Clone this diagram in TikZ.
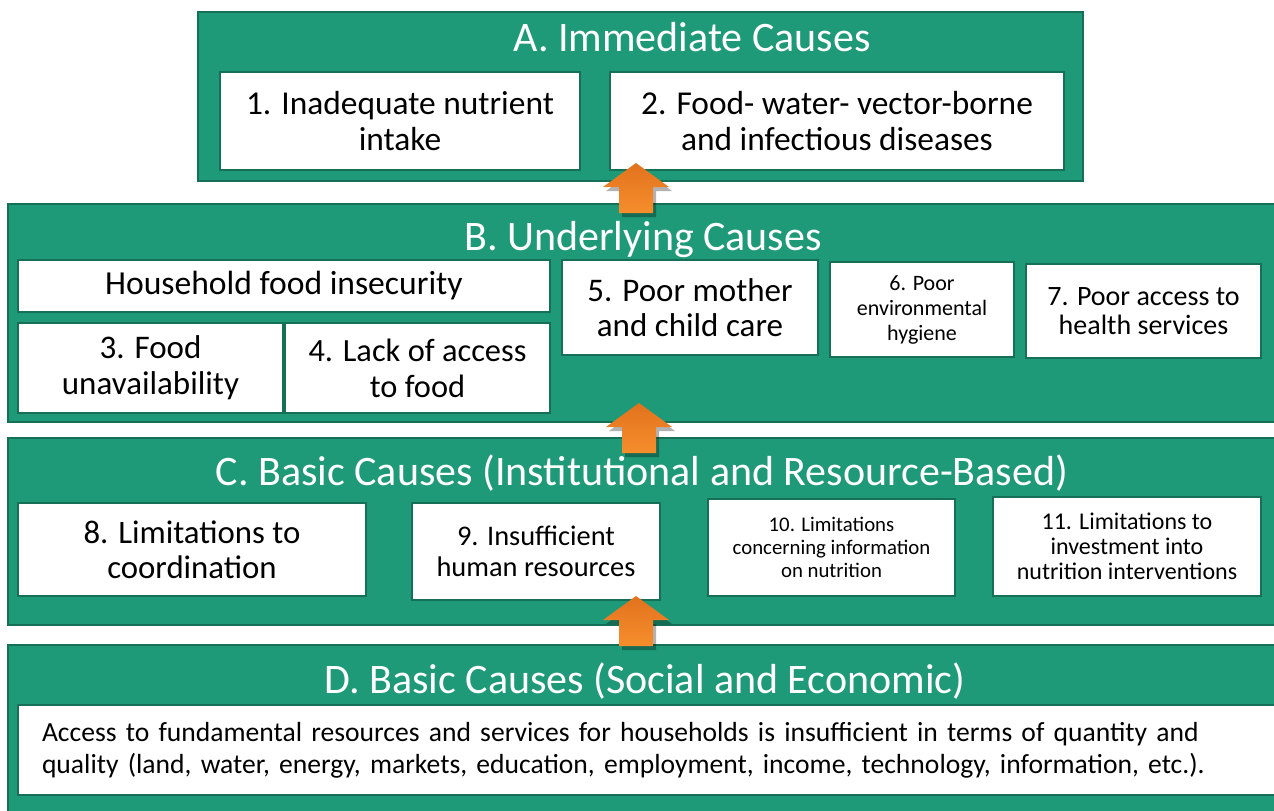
\documentclass[tikz,border=0pt]{standalone}
\usepackage{fontspec}
\setmainfont{Carlito}
\usepackage{tikz}

\definecolor{panelgreen}{RGB}{31,154,120}
\definecolor{edgegreen}{RGB}{22,112,88}
\definecolor{arrowtop}{RGB}{226,114,30}
\definecolor{arrowbot}{RGB}{246,142,44}

\tikzset{
  panel/.style={fill=panelgreen, draw=edgegreen, line width=0.6pt, inner sep=0pt},
  cause/.style={fill=white, draw=edgegreen, line width=0.6pt, align=center, inner sep=2pt},
  heading/.style={text=white, font=\fontsize{21}{24}\selectfont},
  upblock/.style={top color=arrowtop, bottom color=arrowbot, draw=none}
}

\begin{document}
\begin{tikzpicture}[x=0.5pt, y=-0.5pt]
    \useasboundingbox (0,0) rectangle (1274,810);
    % Panels
    \node[panel, minimum width=442.5pt, minimum height=84.5pt] (pA) at (640.5,96.5) {};
    \node[panel, minimum width=636pt, minimum height=109pt] (pB) at (644,313) {};
    \node[panel, minimum width=636pt, minimum height=93.5pt] (pC) at (644,531.5) {};
    \node[panel, minimum width=636pt, minimum height=87.5pt] (pD) at (644,732.5) {};
    % Headings
    \node[heading] (tA) at (692,37) {A. Immediate Causes};
    \node[heading] (tB) at (643,240) {B. Underlying Causes};
    \node[heading] (tC) at (642,473) {C. Basic Causes (Institutional and Resource-Based)};
    \node[heading] (tD) at (645,681) {D. Basic Causes (Social and Economic)};
    % A. immediate
    \node[cause, minimum width=180pt, minimum height=49pt, font=\fontsize{16.7}{18}\selectfont]
    (c1) at (400,121) {1. Inadequate nutrient\\intake};
    \node[cause, minimum width=227pt, minimum height=49pt, font=\fontsize{16.7}{18}\selectfont]
    (c2) at (837,121) {2. Food- water- vector-borne\\and infectious diseases};
    % B. underlying
    \node[cause, minimum width=266pt, minimum height=26pt, font=\fontsize{16.8}{18}\selectfont]
    (hh) at (284,286) {Household food insecurity};
    \node[cause, minimum width=132.5pt, minimum height=45pt, font=\fontsize{16.5}{18}\selectfont]
    (c3) at (150.5,368) {3. Food\\unavailability};
    \node[cause, minimum width=132.5pt, minimum height=45pt, font=\fontsize{16.2}{18}\selectfont]
    (c4) at (417.5,368) {4. Lack of access\\to food};
    \node[cause, minimum width=128pt, minimum height=47.5pt, font=\fontsize{16.5}{17.5}\selectfont]
    (c5) at (690,307.5) {5. Poor mother\\and child care};
    \node[cause, minimum width=92pt, minimum height=47.5pt, font=\fontsize{11}{12.5}\selectfont]
    (c6) at (922,309.5) {6. Poor\\environmental\\hygiene};
    \node[cause, minimum width=117.5pt, minimum height=47pt, font=\fontsize{14}{14.5}\selectfont]
    (c7) at (1143.5,311) {7. Poor access to\\health services};
    % C. institutional
    \node[cause, minimum width=174pt, minimum height=46.5pt, font=\fontsize{16.4}{17.5}\selectfont]
    (c8) at (192,549.5) {8. Limitations to\\coordination};
    \node[cause, minimum width=124pt, minimum height=48.5pt, font=\fontsize{14.2}{15.5}\selectfont]
    (c9) at (536,551.5) {9. Insufficient\\human resources};
    \node[cause, minimum width=123.5pt, minimum height=48.5pt, font=\fontsize{10.4}{11.5}\selectfont]
    (c10) at (831.5,547.5) {10. Limitations\\concerning information\\on nutrition};
    \node[cause, minimum width=134pt, minimum height=49.5pt, font=\fontsize{12}{12.5}\selectfont]
    (c11) at (1127,546.5) {11. Limitations to\\investment into\\nutrition interventions};
    % D. social
    \node[cause, minimum width=636pt, minimum height=45pt, inner xsep=12pt, text width=612pt,
    align=left, font=\fontsize{13.8}{16}\selectfont]
    (cd) at (654,750) {Access to fundamental resources and services for households is insufficient in terms of quantity and\\quality (land, water, energy, markets, education, employment, income, technology, information, etc.).};
    % Arrows
    \coordinate (ab) at (636,163);
    \coordinate (bc) at (639,403);
    \coordinate (cd2) at (636,596);
    \foreach \tip in {ab,bc,cd2}{
      \fill[black, opacity=0.3] ([shift={(3,4)}]\tip) -- ++(33,24) -- ++(-16,0) -- ++(0,26)
      -- ++(-34,0) -- ++(0,-26) -- ++(-16,0) -- cycle;
      \path[upblock] (\tip) -- ++(33,24) -- ++(-16,0) -- ++(0,26)
      -- ++(-34,0) -- ++(0,-26) -- ++(-16,0) -- cycle;
    }
\end{tikzpicture}
\end{document}
